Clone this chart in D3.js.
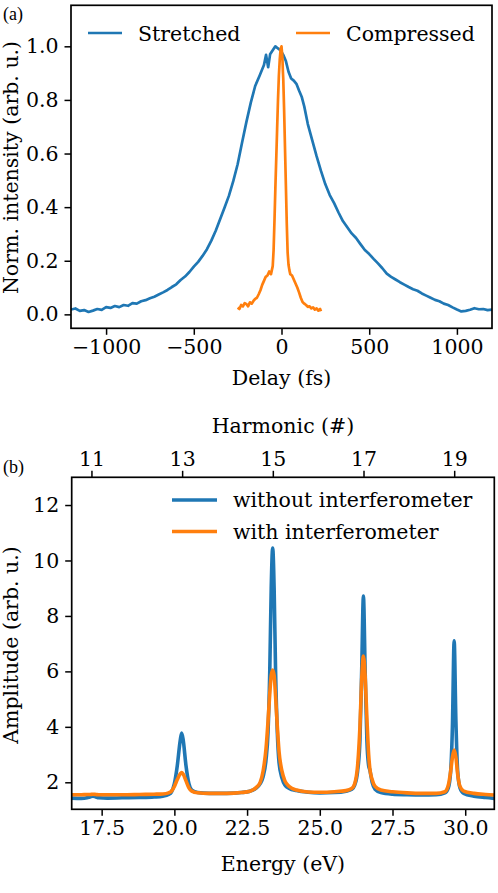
<!DOCTYPE html>
<html><head><meta charset="utf-8">
<script src="https://cdn.jsdelivr.net/npm/d3@7"></script>
<style>
html,body{margin:0;padding:0;background:#fff;}
svg{display:block;}
text{font-family:"DejaVu Serif",serif;fill:#000;}
</style></head>
<body>
<script>
// ---------- DATA: panel (a) ----------
const delayStretched = [-1200,-1175,-1150,-1125,-1100,-1075,-1050,-1025,-1000,-975,-950,-925,-900,-875,-850,-825,-800,-775,-750,-725,-700,-675,-650,-625,-600,-575,-550,-525,-500,-475,-450,-425,-400,-375,-350,-325,-300,-275,-250,-225,-200,-175,-150,-125,-100,-88,-76,-65,-50,-35,-20,-5,10,25,40,55,70,85,100,115,130,150,175,200,225,250,275,300,325,350,375,400,425,450,475,500,525,550,575,600,625,650,675,700,725,750,775,800,825,850,875,900,925,950,975,1000,1025,1050,1075,1100,1125,1150,1175,1200];
const intensityStretched = [0.018,0.022,0.013,0.016,0.009,0.014,0.020,0.017,0.027,0.024,0.031,0.027,0.035,0.032,0.042,0.040,0.049,0.053,0.060,0.066,0.074,0.082,0.091,0.102,0.112,0.128,0.141,0.158,0.178,0.196,0.218,0.243,0.275,0.312,0.355,0.398,0.442,0.497,0.560,0.640,0.718,0.790,0.852,0.890,0.930,0.968,0.922,0.970,0.985,1.000,0.992,0.985,0.968,0.945,0.905,0.880,0.872,0.860,0.835,0.812,0.775,0.710,0.650,0.590,0.535,0.485,0.445,0.415,0.380,0.348,0.325,0.302,0.285,0.262,0.240,0.225,0.207,0.190,0.172,0.152,0.140,0.130,0.120,0.111,0.102,0.094,0.088,0.078,0.070,0.062,0.054,0.049,0.040,0.035,0.026,0.018,0.011,0.013,0.017,0.023,0.019,0.020,0.016,0.018];
const delayCompressed = [-250,-240,-230,-220,-210,-200,-190,-180,-170,-160,-150,-140,-130,-120,-110,-100,-90,-80,-70,-60,-55,-50,-45,-40,-35,-30,-25,-20,-15,-10,-5,0,5,8,10,15,20,25,30,35,40,45,50,60,70,80,90,100,110,120,130,140,150,160,170,180,190,200,210,220,225];
const intensityCompressed = [0.025,0.020,0.035,0.030,0.042,0.038,0.030,0.045,0.040,0.050,0.058,0.062,0.075,0.090,0.110,0.125,0.140,0.145,0.160,0.150,0.165,0.180,0.240,0.350,0.470,0.580,0.690,0.800,0.890,0.950,0.990,1.000,0.960,0.905,0.880,0.760,0.620,0.480,0.340,0.230,0.185,0.165,0.150,0.145,0.130,0.115,0.100,0.082,0.062,0.046,0.040,0.035,0.028,0.030,0.022,0.026,0.018,0.022,0.014,0.020,0.012];
const delayTicks = [-1000,-500,0,500,1000];
const intensityTicks = [0,0.2,0.4,0.6,0.8,1.0];
const seriesA = ["Stretched","Compressed"];

// ---------- DATA: panel (b) ----------
const energy = [16.47,16.8,17.0,17.1,17.2,17.3,17.4,17.7,18.2,18.8,19.3,19.6,19.8,19.9,20.0,20.1,20.2,20.25,20.3,20.4,20.5,20.6,20.8,21.2,21.8,22.3,22.6,22.8,22.95,23.05,23.15,23.22,23.28,23.33,23.38,23.43,23.48,23.54,23.6,23.7,23.8,23.95,24.2,24.6,25.0,25.5,25.9,26.1,26.2,26.3,26.38,26.44,26.5,26.56,26.62,26.68,26.72,26.8,26.9,27.1,27.5,28.0,28.5,29.0,29.3,29.42,29.5,29.56,29.62,29.68,29.74,29.82,29.95,30.3,30.7,31.0];
const ampWithout = [1.43,1.42,1.44,1.47,1.50,1.47,1.44,1.43,1.44,1.45,1.47,1.50,1.56,1.65,1.95,2.6,3.5,3.78,3.55,2.6,1.95,1.72,1.63,1.60,1.60,1.63,1.68,1.78,1.95,2.2,2.8,3.8,6.0,9.0,10.45,9.0,6.0,3.8,2.7,2.15,1.9,1.78,1.70,1.64,1.62,1.63,1.68,1.75,1.9,2.4,3.5,6.0,8.72,6.0,3.5,2.6,2.45,2.0,1.75,1.63,1.57,1.55,1.54,1.55,1.62,1.8,2.4,4.0,7.1,4.2,2.4,1.8,1.6,1.5,1.45,1.42];
const ampWith = [1.55,1.55,1.56,1.56,1.57,1.56,1.55,1.55,1.55,1.56,1.57,1.58,1.62,1.68,1.85,2.1,2.3,2.35,2.3,2.05,1.8,1.68,1.62,1.60,1.60,1.63,1.68,1.8,2.0,2.4,3.2,4.2,5.2,5.85,6.05,5.85,5.1,4.0,3.1,2.4,2.05,1.85,1.72,1.65,1.64,1.66,1.70,1.78,1.95,2.6,4.0,5.7,6.55,5.8,4.3,3.0,2.5,2.1,1.85,1.72,1.66,1.62,1.60,1.60,1.66,1.9,2.4,2.9,3.16,2.9,2.3,1.85,1.68,1.60,1.56,1.54];
const energyTicks = [17.5,20.0,22.5,25.0,27.5,30.0];
const ampTicks = [2,4,6,8,10,12];
const harmonicTicks = [11,13,15,17,19];
const photonEnergy = 1.559;
const seriesB = ["without interferometer","with interferometer"];

const colors = ["#1f77b4","#ff7f0e"];
const W = 498, H = 893, FS = 20.5;

const svg = d3.select("body").append("svg").attr("width",W).attr("height",H);
const defs = svg.append("defs");

function frame(x0, x1, y0, y1, clipId){
  defs.append("clipPath").attr("id",clipId).append("rect")
    .attr("x",x0).attr("y",y0).attr("width",x1-x0).attr("height",y1-y0);
}

// ================= Panel (a) =================
{
  const L=71, R=492, T=5.3, B=328.3;
  const x = d3.scaleLinear().domain([-1200,1200]).range([L,R]);
  const y = d3.scaleLinear().domain([-0.052,1.153]).range([B,T]);
  frame(L,R,T,B,"clipA");
  const g = svg.append("g");
  const line = d3.line().x(d=>x(d[0])).y(d=>y(d[1]));
  const dataA = [d3.zip(delayStretched,intensityStretched), d3.zip(delayCompressed,intensityCompressed)];
  g.append("g").attr("clip-path","url(#clipA)").selectAll("path").data(dataA).join("path")
    .attr("d",line).attr("fill","none").attr("stroke",(d,i)=>colors[i])
    .attr("stroke-width",2.7).attr("stroke-linejoin","round");

  const fmtA = d=> (d<0?"\u2212":"")+Math.abs(d);
  const xa = g.append("g").attr("transform",`translate(0,${B})`)
    .call(d3.axisBottom(x).tickValues(delayTicks).tickFormat(fmtA).tickSize(6.5).tickPadding(5));
  const ya = g.append("g").attr("transform",`translate(${L},0)`)
    .call(d3.axisLeft(y).tickValues(intensityTicks).tickFormat(d3.format(".1f")).tickSize(6.5).tickPadding(6));
  [xa,ya].forEach(a=>{a.select(".domain").remove();
    a.selectAll("line").attr("stroke","#000").attr("stroke-width",1.5);
    a.selectAll("text").style("font-family","DejaVu Serif").style("font-size",FS+"px").attr("fill","#000");});
  g.append("rect").attr("x",L).attr("y",T).attr("width",R-L).attr("height",B-T)
    .attr("fill","none").attr("stroke","#000").attr("stroke-width",1.7);

  g.append("text").attr("x",(L+R)/2).attr("y",385).attr("text-anchor","middle")
    .style("font-size",FS+"px").text("Delay (fs)");
  g.append("text").attr("transform",`translate(18,167.5) rotate(-90)`).attr("text-anchor","middle")
    .style("font-size",FS+"px").text("Norm. intensity (arb. u.)");

  const legX = [88,296], txtX=[138,346];
  seriesA.forEach((s,i)=>{
    g.append("line").attr("x1",legX[i]).attr("x2",legX[i]+34).attr("y1",33).attr("y2",33)
      .attr("stroke",colors[i]).attr("stroke-width",2.7);
    g.append("text").attr("x",txtX[i]).attr("y",41).style("font-size",FS+"px").text(s);
  });
  svg.append("text").attr("x",3).attr("y",20).style("font-family","Liberation Serif")
    .style("font-size","18px").text("(a)");
}

// ================= Panel (b) =================
{
  const L=71.7, R=494.3, T=477.3, B=809.3;
  const x = d3.scaleLinear().domain([16.47,31.0]).range([L,R]);
  const y = d3.scaleLinear().domain([1.026,13.0]).range([B,T]);
  const xh = d3.scaleLinear().domain([16.47/photonEnergy,31.0/photonEnergy]).range([L,R]);
  frame(L,R,T,B,"clipB");
  const g = svg.append("g");
  const line = d3.line().x(d=>x(d[0])).y(d=>y(d[1])).curve(d3.curveMonotoneX);
  const dataB = [d3.zip(energy,ampWithout), d3.zip(energy,ampWith)];
  g.append("g").attr("clip-path","url(#clipB)").selectAll("path").data(dataB).join("path")
    .attr("d",line).attr("fill","none").attr("stroke",(d,i)=>colors[i])
    .attr("stroke-width",3.6).attr("stroke-linejoin","round");

  const xa = g.append("g").attr("transform",`translate(0,${B})`)
    .call(d3.axisBottom(x).tickValues(energyTicks).tickFormat(d3.format(".1f")).tickSize(6.5).tickPadding(5));
  const xt = g.append("g").attr("transform",`translate(0,${T})`)
    .call(d3.axisTop(xh).tickValues(harmonicTicks).tickFormat(d3.format("d")).tickSize(6.5).tickPadding(5));
  const ya = g.append("g").attr("transform",`translate(${L},0)`)
    .call(d3.axisLeft(y).tickValues(ampTicks).tickFormat(d3.format("d")).tickSize(6.5).tickPadding(6));
  [xa,xt,ya].forEach(a=>{a.select(".domain").remove();
    a.selectAll("line").attr("stroke","#000").attr("stroke-width",1.5);
    a.selectAll("text").style("font-family","DejaVu Serif").style("font-size",FS+"px").attr("fill","#000");});
  g.append("rect").attr("x",L).attr("y",T).attr("width",R-L).attr("height",B-T)
    .attr("fill","none").attr("stroke","#000").attr("stroke-width",1.7);

  g.append("text").attr("x",(L+R)/2).attr("y",871).attr("text-anchor","middle")
    .style("font-size",FS+"px").text("Energy (eV)");
  g.append("text").attr("x",(L+R)/2).attr("y",433).attr("text-anchor","middle")
    .style("font-size",FS+"px").text("Harmonic (#)");
  g.append("text").attr("transform",`translate(18,645) rotate(-90)`).attr("text-anchor","middle")
    .style("font-size",FS+"px").text("Amplitude (arb. u.)");

  const legY=[500,531.5];
  seriesB.forEach((s,i)=>{
    g.append("line").attr("x1",172).attr("x2",217).attr("y1",legY[i]).attr("y2",legY[i])
      .attr("stroke",colors[i]).attr("stroke-width",3.6);
    g.append("text").attr("x",233).attr("y",legY[i]+7).style("font-size",FS+"px").text(s);
  });
  svg.append("text").attr("x",3).attr("y",473).style("font-family","Liberation Serif")
    .style("font-size","18px").text("(b)");
}
</script>
</body></html>
